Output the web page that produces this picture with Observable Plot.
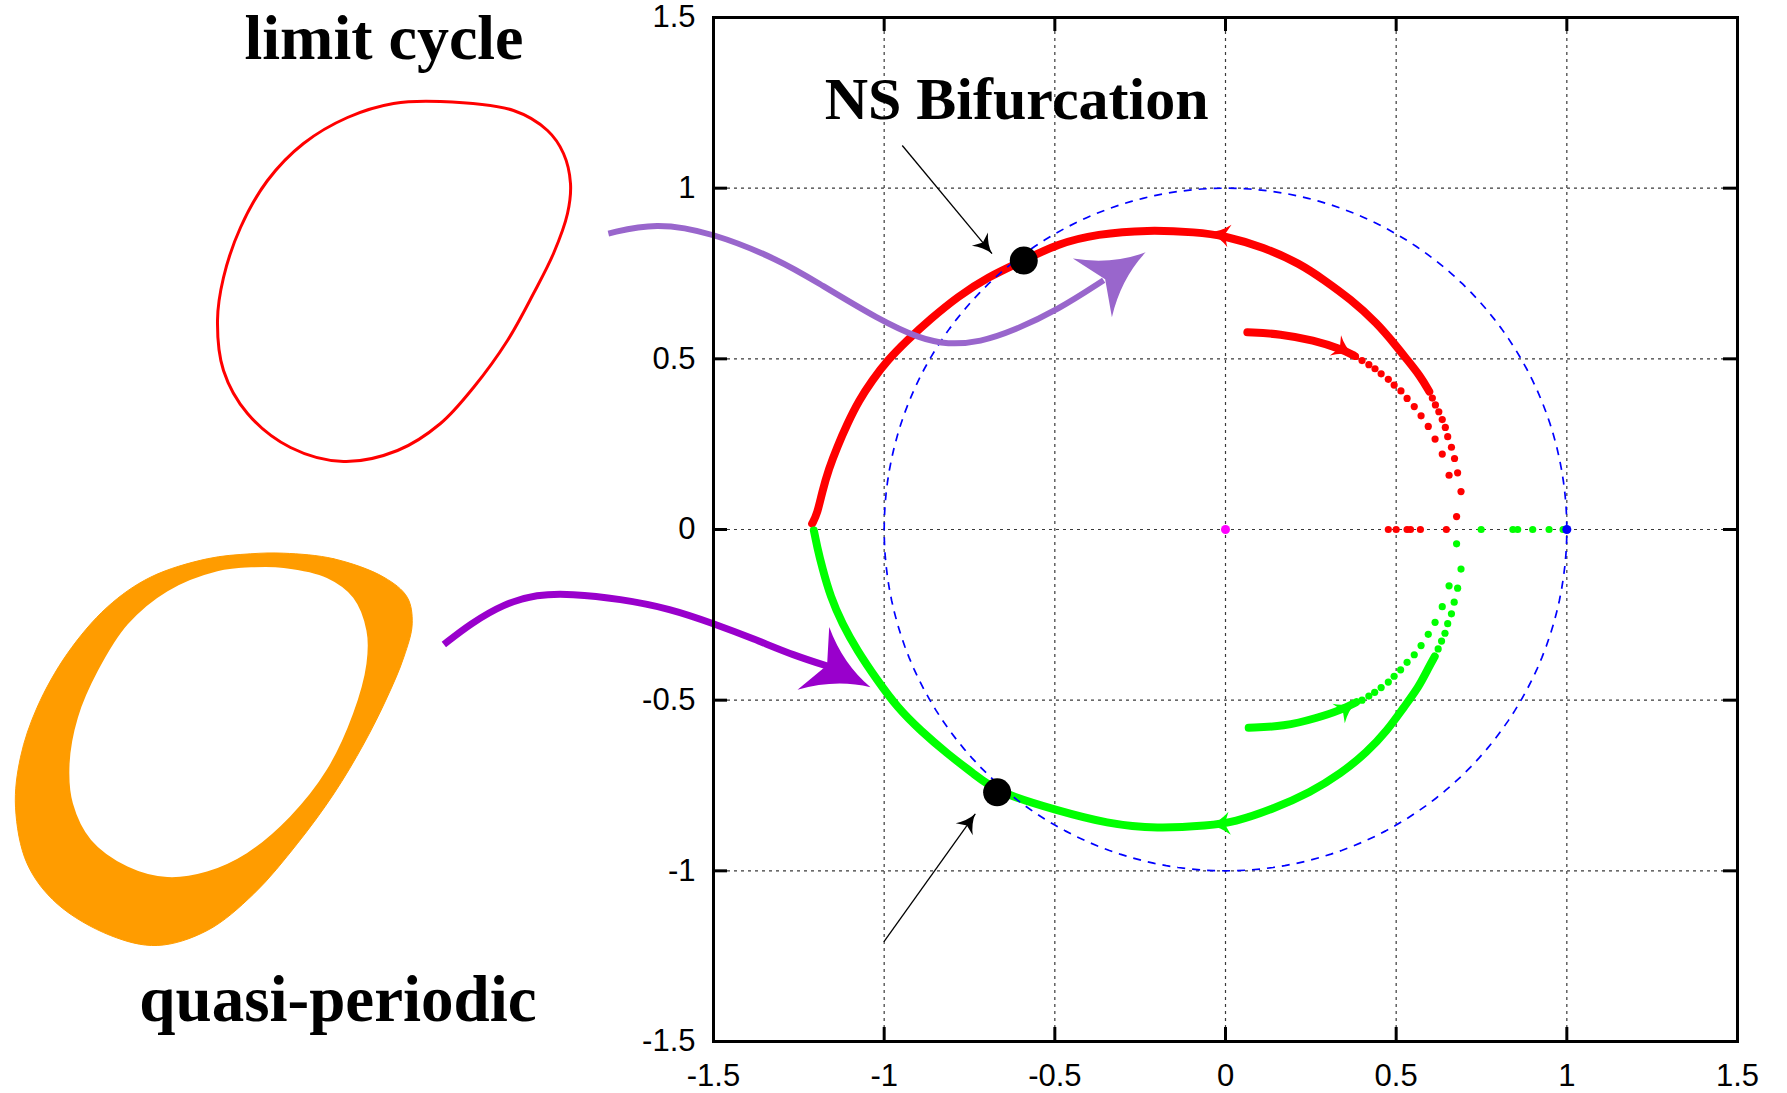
<!DOCTYPE html>
<html>
<head>
<meta charset="utf-8">
<script src="https://cdn.jsdelivr.net/npm/d3@7"></script>
<script src="https://cdn.jsdelivr.net/npm/@observablehq/plot@0.6"></script>
<style>
  html, body { margin: 0; padding: 0; background: #fff; }
  #stage { position: relative; width: 1787px; height: 1093px; overflow: hidden; }
  #stage svg { position: absolute; }
</style>
</head>
<body>
<div id="stage"></div>
<script>
// ---- Floquet multipliers in the complex plane (Re, Im) ----
const axisTicks = [-1.5, -1, -0.5, 0, 0.5, 1, 1.5];
const gridValues = [-1, -0.5, 0, 0.5, 1];

// complex-pair branch (Im > 0), densely sampled part
const redOuterArc = [[-1.211,0.017],[-1.196,0.046],[-1.182,0.109],[-1.162,0.178],[-1.138,0.241],[-1.108,0.310],
  [-1.074,0.378],[-1.035,0.437],[-0.991,0.495],[-0.933,0.554],[-0.864,0.617],[-0.786,0.681],[-0.698,0.739],
  [-0.591,0.788],[-0.493,0.837],[-0.376,0.866],[-0.229,0.878],[-0.083,0.871],[-0.005,0.861],[0.112,0.827],
  [0.220,0.778],[0.290,0.730],[0.366,0.675],[0.444,0.605],[0.503,0.534],[0.530,0.500],[0.571,0.449],[0.597,0.404]];
const redOuterDots = [[0.606,0.385],[0.615,0.365],[0.625,0.345],[0.635,0.322],[0.644,0.299],[0.651,0.272],
  [0.662,0.241],[0.671,0.208],[0.680,0.166],[0.690,0.111],[0.677,0.038]];
const redInnerArc = [[0.064,0.578],[0.161,0.573],[0.259,0.554],[0.337,0.529],[0.376,0.510]];
const redInnerDots = [[0.381,0.507],[0.400,0.495],[0.420,0.483],[0.438,0.471],[0.456,0.456],[0.477,0.440],
  [0.494,0.423],[0.514,0.406],[0.532,0.384],[0.553,0.360],[0.573,0.333],[0.594,0.302],[0.614,0.265],
  [0.635,0.221],[0.655,0.159]];
const redReal = [[0.477,0],[0.500,0],[0.532,0],[0.542,0],[0.571,0],[0.647,0]];

// conjugate branch (Im < 0)
const greenOuterArc = [[-1.206,-0.003],[-1.196,-0.052],[-1.182,-0.110],[-1.157,-0.198],[-1.123,-0.276],
  [-1.079,-0.355],[-1.020,-0.442],[-0.962,-0.521],[-0.894,-0.589],[-0.815,-0.657],[-0.737,-0.716],
  [-0.669,-0.770],[-0.493,-0.823],[-0.347,-0.862],[-0.200,-0.877],[-0.049,-0.867],[0.024,-0.858],
  [0.142,-0.818],[0.249,-0.770],[0.337,-0.716],[0.415,-0.652],[0.474,-0.589],[0.522,-0.521],
  [0.566,-0.462],[0.594,-0.406],[0.613,-0.372]];
const greenOuterDots = [[0.623,-0.350],[0.633,-0.327],[0.643,-0.304],[0.651,-0.276],[0.662,-0.247],
  [0.670,-0.213],[0.680,-0.172],[0.690,-0.116],[0.677,-0.042]];
const greenInnerArc = [[0.068,-0.581],[0.171,-0.577],[0.269,-0.552],[0.340,-0.528],[0.383,-0.506]];
const greenInnerDots = [[0.400,-0.500],[0.420,-0.488],[0.437,-0.477],[0.456,-0.463],[0.477,-0.447],
  [0.494,-0.430],[0.513,-0.411],[0.532,-0.389],[0.553,-0.367],[0.573,-0.340],[0.594,-0.307],
  [0.614,-0.272],[0.635,-0.226],[0.655,-0.165]];
const greenReal = [[0.749,0],[0.842,0],[0.856,0],[0.900,0],[0.948,0],[0.989,0]];

const trivialMultiplier = [[1, 0]];
const originPoint = [[0, 0]];

// direction markers along the branches: [from, to]
const redArrows = [[[0.000,0.862],[-0.049,0.871]], [[0.327,0.537],[0.376,0.510]]];
const greenArrows = [[[0.000,-0.862],[-0.049,-0.867]], [[0.330,-0.540],[0.383,-0.506]]];

// Neimark–Sacker points and their pointers
const nsPoints = [[-0.591,0.788],[-0.669,-0.770]];
const nsPointers = [[[-0.947,1.125],[-0.684,0.808]], [[-1.001,-1.208],[-0.733,-0.833]]];

// connectors from the orbit sketches to the branches
const connectorUpper = [[-1.808,0.867],[-1.670,0.900],[-1.503,0.870],[-1.304,0.788],[-1.206,0.730],
  [-1.011,0.612],[-0.894,0.559],[-0.815,0.542],[-0.718,0.549],[-0.620,0.583],[-0.493,0.642],
  [-0.357,0.730],[-0.234,0.812]];
const connectorLower = [[-2.290,-0.337],[-2.212,-0.276],[-2.115,-0.218],[-2.017,-0.190],[-1.919,-0.188],
  [-1.773,-0.203],[-1.626,-0.232],[-1.499,-0.276],[-1.382,-0.320],[-1.265,-0.369],[-1.157,-0.403],
  [-1.040,-0.462]];

// periodic orbit (limit cycle), sketch units
const limitCycle = [[2.40,3.79],[3.13,3.70],[3.47,3.50],[3.63,3.27],[3.70,2.97],[3.67,2.67],[3.53,2.27],
  [3.33,1.87],[3.07,1.40],[2.73,0.93],[2.40,0.57],[1.97,0.30],[1.43,0.19],[0.90,0.33],[0.47,0.67],
  [0.23,1.10],[0.17,1.60],[0.23,2.03],[0.40,2.53],[0.67,3.00],[1.03,3.37],[1.47,3.63],[1.93,3.77]];

// quasi-periodic torus section: outer and inner envelope, sketch units
const torusOuter = [[2.833,5.403],[3.333,5.347],[3.833,5.163],[4.067,4.963],[4.117,4.697],[4.033,4.363],
  [3.867,3.963],[3.633,3.497],[3.333,2.997],[2.967,2.497],[2.533,1.997],[2.067,1.630],[1.567,1.480],
  [1.100,1.580],[0.567,1.897],[0.267,2.297],[0.150,2.863],[0.200,3.363],[0.367,3.863],[0.667,4.397],
  [1.067,4.863],[1.500,5.163],[2.067,5.347],[2.500,5.397]];
const torusInner = [[2.833,5.263],[3.267,5.163],[3.533,4.963],[3.667,4.630],[3.667,4.297],[3.533,3.797],
  [3.267,3.230],[2.900,2.763],[2.467,2.397],[2.067,2.213],[1.667,2.157],[1.267,2.263],[0.900,2.530],
  [0.717,2.897],[0.683,3.297],[0.767,3.763],[0.967,4.230],[1.267,4.697],[1.667,5.030],[2.167,5.230],
  [2.533,5.270]];

const titleLabels = [{text: "NS Bifurcation", x: -0.612, y: 1.204}];
const cycleLabel = [{text: "limit cycle", x: 1.835, y: 4.22}];
const torusLabel = [{text: "quasi-periodic", x: 3.375, y: 0.73}];

// ---- drawing helpers ----
// swept arrowhead, tip at the origin, pointing up; r is its length
const sweptHead = {
  draw(context, size) {
    const r = Math.sqrt(size / Math.PI);
    const w = 0.55 * r, n = 0.76 * r;
    context.moveTo(0, 0);
    context.quadraticCurveTo(0.13 * r, 0.55 * r, w, r);
    context.lineTo(0, n);
    context.lineTo(-w, r);
    context.quadraticCurveTo(-0.13 * r, 0.55 * r, 0, 0);
    context.closePath();
  }
};
const heading = ([a, b]) => Math.atan2(b[0] - a[0], b[1] - a[1]) * 180 / Math.PI;
const headOf = (path) => [path[path.length - 2], path[path.length - 1]];
const heads = (pairs, color, r) => Plot.dot(pairs, {
  x: d => d[1][0], y: d => d[1][1], rotate: d => heading(d),
  symbol: sweptHead, r, fill: color, stroke: "none"
});

const unitCircle = d3.range(0, 361, 2).map(a => [Math.cos(a * Math.PI / 180), Math.sin(a * Math.PI / 180)]);

const W = 1787, H = 1093, mL = 713, mR = 50, mT = 17, mB = 52;
const frameW = W - mL - mR, frameH = H - mT - mB, tickLen = 14;
const sans = "'Liberation Sans', Arial, Helvetica, sans-serif";
const serif = "'Liberation Serif', 'Times New Roman', Times, serif";
const branch = (data, color) => Plot.line(data, {curve: "basis", stroke: color, strokeWidth: 8});

const main = Plot.plot({
  width: W, height: H,
  marginLeft: mL, marginRight: mR, marginTop: mT, marginBottom: mB,
  x: {domain: [-1.5, 1.5]},
  y: {domain: [-1.5, 1.5]},
  style: {fontFamily: sans, background: "transparent", overflow: "visible"},
  marks: [
    Plot.ruleX(gridValues, {x: d => d, stroke: "#3a3a3a", strokeWidth: 1.2, strokeDasharray: "3,4"}),
    Plot.ruleY(gridValues, {y: d => d, stroke: "#3a3a3a", strokeWidth: 1.2, strokeDasharray: "3,4"}),

    branch(redOuterArc, "#ff0000"),
    Plot.dot(redOuterDots, {r: 3.6, fill: "#ff0000"}),
    branch(redInnerArc, "#ff0000"),
    Plot.dot(redInnerDots, {r: 3.6, fill: "#ff0000"}),
    Plot.dot(redReal, {r: 3.6, fill: "#ff0000"}),
    branch(greenOuterArc, "#00ff00"),
    Plot.dot(greenOuterDots, {r: 3.6, fill: "#00ff00"}),
    branch(greenInnerArc, "#00ff00"),
    Plot.dot(greenInnerDots, {r: 3.6, fill: "#00ff00"}),
    Plot.dot(greenReal, {r: 3.6, fill: "#00ff00"}),
    heads(redArrows, "#ff0000", 21),
    heads(greenArrows, "#00ff00", 21),

    Plot.line(unitCircle, {stroke: "#0000ff", strokeWidth: 1.7, strokeDasharray: "8,7", strokeLinecap: "butt"}),
    Plot.dot(trivialMultiplier, {r: 4.5, fill: "#0000ff"}),
    Plot.dot(originPoint, {r: 4.5, fill: "#ff00ff"}),

    Plot.dot(nsPoints, {r: 14, fill: "#000000"}),
    Plot.link(nsPointers, {x1: d => d[0][0], y1: d => d[0][1], x2: d => d[1][0], y2: d => d[1][1],
      stroke: "#000000", strokeWidth: 1.3}),
    heads(nsPointers, "#000000", 19),

    Plot.line(connectorUpper.slice(0, -1), {curve: "basis", stroke: "#9966cc", strokeWidth: 6, strokeLinecap: "butt"}),
    heads([headOf(connectorUpper)], "#9966cc", 64),
    Plot.line(connectorLower.slice(0, -1), {curve: "basis", stroke: "#9900cc", strokeWidth: 7, strokeLinecap: "butt"}),
    heads([headOf(connectorLower)], "#9900cc", 64),

    Plot.text(titleLabels, {x: "x", y: "y", text: "text", lineAnchor: "bottom", textAnchor: "middle",
      fontFamily: serif, fontWeight: "bold", fontSize: 60, fill: "#000000"}),

    // inward tick marks on all four sides
    Plot.ruleX(axisTicks, {x: d => d, insetTop: frameH - tickLen, stroke: "#000", strokeWidth: 3}),
    Plot.ruleX(axisTicks, {x: d => d, insetBottom: frameH - tickLen, stroke: "#000", strokeWidth: 3}),
    Plot.ruleY(axisTicks, {y: d => d, insetRight: frameW - tickLen, stroke: "#000", strokeWidth: 3}),
    Plot.ruleY(axisTicks, {y: d => d, insetLeft: frameW - tickLen, stroke: "#000", strokeWidth: 3}),
    Plot.frame({stroke: "#000", strokeWidth: 3}),
    Plot.axisX({ticks: axisTicks, tickSize: 0, tickPadding: 22, fontSize: 31, label: null,
      tickFormat: d => `${d}`}),
    Plot.axisY({ticks: axisTicks, tickSize: 0, tickPadding: 18, fontSize: 31, label: null,
      tickFormat: d => `${d}`})
  ]
});

// orbit sketch: limit cycle
const cycleSketch = Plot.plot({
  width: 420, height: 480, margin: 0,
  x: {domain: [-0.2, 4.0], axis: null},
  y: {domain: [0, 4.8], axis: null},
  style: {background: "transparent", overflow: "visible"},
  marks: [
    Plot.line(limitCycle, {curve: "catmull-rom-closed", stroke: "#ff0000", strokeWidth: 3}),
    Plot.text(cycleLabel, {x: "x", y: "y", text: "text", lineAnchor: "bottom", textAnchor: "middle",
      fontFamily: serif, fontWeight: "bold", fontSize: 64, fill: "#000000"})
  ]
});

// orbit sketch: quasi-periodic motion on a torus
const torusSketch = Plot.plot({
  width: 560, height: 563, margin: 0,
  x: {domain: [0, 5.6], axis: null},
  y: {domain: [0, 5.63], axis: null},
  style: {background: "transparent", overflow: "visible"},
  marks: [
    Plot.line(torusOuter, {curve: "catmull-rom-closed", fill: "#ff9c00", stroke: "#ff9c00", strokeWidth: 1}),
    Plot.line(torusInner, {curve: "catmull-rom-closed", fill: "#ffffff", stroke: "#ff9c00", strokeWidth: 1.5}),
    Plot.text(torusLabel, {x: "x", y: "y", text: "text", lineAnchor: "bottom", textAnchor: "middle",
      fontFamily: serif, fontWeight: "bold", fontSize: 65, fill: "#000000"})
  ]
});

const stage = document.getElementById("stage");
const place = (el, left, top) => { el.style.left = left + "px"; el.style.top = top + "px"; stage.appendChild(el); };
place(main, 0, 0);
place(cycleSketch, 180, 0);
place(torusSketch, 0, 530);
</script>
</body>
</html>
